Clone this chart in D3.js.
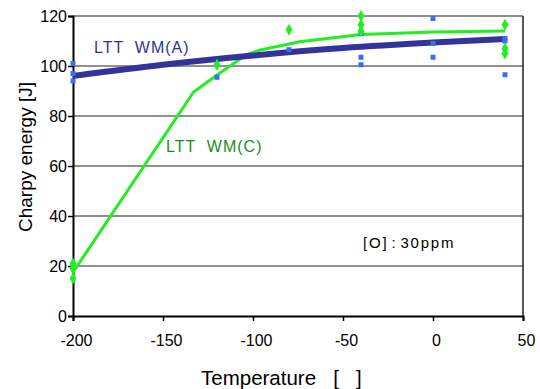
<!DOCTYPE html>
<html>
<head>
<meta charset="utf-8">
<script src="https://cdn.jsdelivr.net/npm/d3@7"></script>
<style>
  body { margin: 0; background: #fff; }
  text { font-family: Arial, "Liberation Sans", sans-serif; }
</style>
</head>
<body>
<div id="chart"></div>
<script>
const width = 540;
const height = 389;
const margin = {top: 16, right: 17, bottom: 73, left: 73};

// measured points, WM(A) squares
const tempA = [-200, -200, -200, -120, -80, -40, -40, -40, 0, 0, 0, 40, 40, 40];
const energyA = [101, 97, 94, 95.5, 106.5, 113, 103.5, 100.5, 119, 109, 103.5, 111, 110, 96.5];
// measured points, WM(C) diamonds
const tempC = [-200, -200, -200, -120, -80, -40, -40, -40, 40, 40, 40];
const energyC = [21, 19, 15, 100.5, 114.5, 120, 116.5, 114, 116.5, 107, 105];
// fitted curves
const fitTempA = [-200, -150, -100, -50, 0, 40];
const fitA = [96, 100.5, 104.2, 107.2, 109.4, 110.8];
const fitTempC = [-200, -133, -120, -104, -96, -74, -40, 0, 40];
const fitC = [17.5, 89.6, 96.4, 104.4, 106.4, 109.7, 112.6, 113.6, 114];

const xTicks = [-200, -150, -100, -50, 0, 50];
const yTicks = [0, 20, 40, 60, 80, 100, 120];

const svg = d3.select("#chart").append("svg")
  .attr("width", width)
  .attr("height", height);

const x = d3.scaleLinear().domain([-200, 50]).range([margin.left, width - margin.right]);
const y = d3.scaleLinear().domain([0, 120]).range([height - margin.bottom, margin.top]);

// gridlines
svg.append("g").selectAll("line")
  .data(yTicks.slice(1))
  .join("line")
  .attr("x1", x(-200)).attr("x2", x(50))
  .attr("y1", d => y(d)).attr("y2", d => y(d))
  .attr("stroke", "#222").attr("stroke-width", 1.2);

// right border
svg.append("line")
  .attr("x1", x(50)).attr("x2", x(50))
  .attr("y1", y(0)).attr("y2", y(120))
  .attr("stroke", "#222").attr("stroke-width", 1.5);

// axes
const xAxis = svg.append("g")
  .attr("transform", `translate(0,${y(0)})`)
  .call(d3.axisBottom(x).tickValues(xTicks).tickFormat(d => String(d)).tickSize(5).tickPadding(14));
const yAxis = svg.append("g")
  .attr("transform", `translate(${x(-200)},0)`)
  .call(d3.axisLeft(y).tickValues(yTicks).tickFormat(d => String(d)).tickSize(5).tickPadding(1));
[xAxis, yAxis].forEach(g => {
  g.select(".domain").attr("stroke", "#000").attr("stroke-width", 2);
  g.selectAll(".tick line").attr("stroke", "#000").attr("stroke-width", 1.5);
  g.selectAll("text").attr("fill", "#000").style("font-size", "16px")
    .style("font-family", "Arial, 'Liberation Sans', sans-serif");
});
xAxis.selectAll(".tick text").attr("dx", 3);

// fit lines
svg.append("path")
  .datum(fitTempC.map((t, i) => [t, fitC[i]]))
  .attr("fill", "none")
  .attr("stroke", "#22ee22")
  .attr("stroke-width", 3)
  .attr("d", d3.line().x(d => x(d[0])).y(d => y(d[1])));

svg.append("path")
  .datum(fitTempA.map((t, i) => [t, fitA[i]]))
  .attr("fill", "none")
  .attr("stroke", "#333399")
  .attr("stroke-width", 6)
  .attr("d", d3.line().curve(d3.curveMonotoneX).x(d => x(d[0])).y(d => y(d[1])));

// WM(A) squares
svg.append("g").selectAll("rect")
  .data(tempA.map((t, i) => [t, energyA[i]]))
  .join("rect")
  .attr("x", d => x(d[0]) - 2.5)
  .attr("y", d => y(d[1]) - 2.5)
  .attr("width", 5).attr("height", 5)
  .attr("fill", "#3a6ff0");

// WM(C) diamonds
svg.append("g").selectAll("path")
  .data(tempC.map((t, i) => [t, energyC[i]]))
  .join("path")
  .attr("d", d => {
    const cx = x(d[0]), cy = y(d[1]);
    return `M${cx},${cy - 6}L${cx + 3.5},${cy}L${cx},${cy + 6}L${cx - 3.5},${cy}Z`;
  })
  .attr("fill", "#22ee22");

// series labels
svg.append("text")
  .attr("x", 94).attr("y", 53)
  .attr("fill", "#333399")
  .style("font-size", "16px").style("letter-spacing", "1px")
  .style("white-space", "pre")
  .text("LTT  WM(A)");

svg.append("text")
  .attr("x", 166).attr("y", 152)
  .attr("fill", "#1a8f1a")
  .style("font-size", "16px").style("letter-spacing", "1px")
  .style("white-space", "pre")
  .text("LTT  WM(C)");

const note = svg.append("text")
  .attr("x", 363).attr("y", 248)
  .attr("fill", "#000")
  .style("font-size", "15px").style("letter-spacing", "1.8px");
note.append("tspan").text("[O]");
note.append("tspan").attr("dx", 3).text(":");
note.append("tspan").attr("dx", 3).text("30ppm");

// axis titles
svg.append("text")
  .attr("transform", "translate(32,157) rotate(-90)")
  .attr("text-anchor", "middle")
  .attr("fill", "#000")
  .style("font-size", "19px")
  .text("Charpy energy [J]");

svg.append("text")
  .attr("x", 201).attr("y", 385)
  .attr("fill", "#000")
  .style("font-size", "20.5px")
  .style("white-space", "pre")
  .text("Temperature   [   ]");
</script>
</body>
</html>
